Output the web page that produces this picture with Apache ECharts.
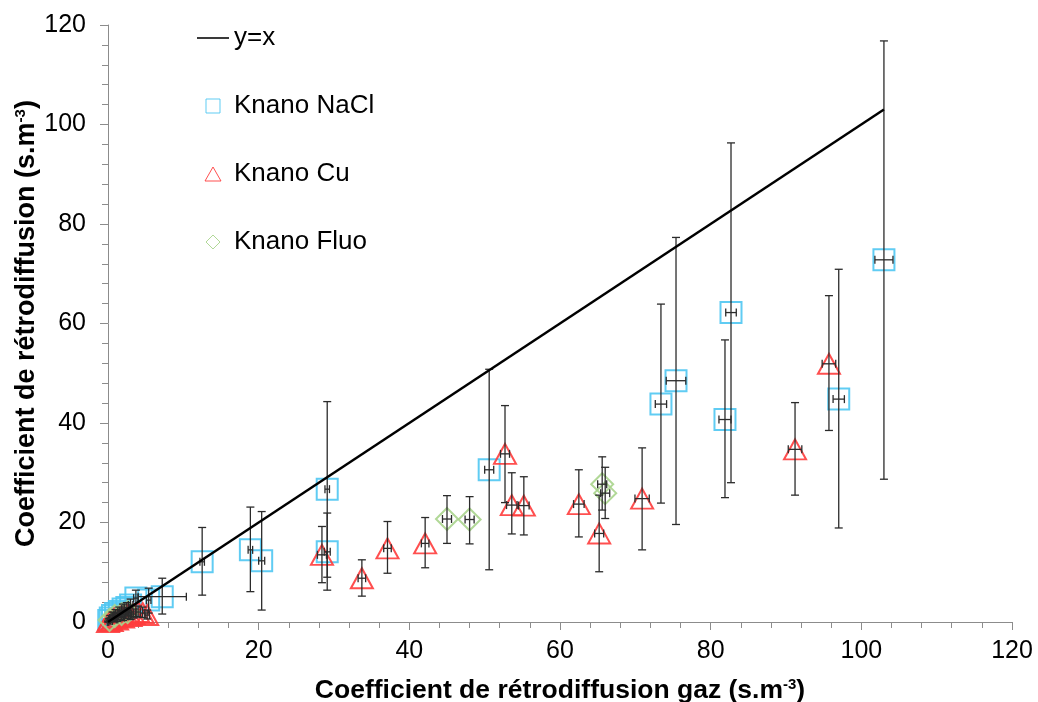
<!DOCTYPE html>
<html>
<head>
<meta charset="utf-8">
<script src="https://cdn.jsdelivr.net/npm/echarts@6/dist/echarts.min.js"></script>
<style>
  html, body { margin: 0; padding: 0; background: #fff; }
  #chart { width: 1038px; height: 702px; }
</style>
</head>
<body>
<div id="chart"></div>
<script>
// Axis ticks (both axes share the same scale)
const axisTicks = [0, 20, 40, 60, 80, 100, 120];

// Reference line y = x
const refLineX = [0, 103];

// Knano NaCl: gas value, measured value, lower / upper error, horizontal half-error
const naclX   = [103.0, 97.0, 82.7, 81.9, 75.4, 73.4, 50.6, 29.1, 29.1, 20.4, 18.9, 12.5, 7.2, 5.4, 3.7, 3.0, 2.5, 2.0, 1.5, 1.0, 0.6, 0.3, 0.1];
const naclY   = [72.8, 44.8, 62.2, 40.7, 48.5, 43.8, 30.6, 26.7, 14.1, 12.3, 14.5, 12.1, 5.1, 4.4, 4.8, 3.4, 2.9, 2.6, 2.1, 1.7, 1.3, 0.8, 0.3];
const naclLo  = [28.7, 18.9, 28.0, 25.0, 19.6, 23.9, 10.5, 9.0, 6.4, 2.4, 6.1, 5.4, 1.6, 1.8, 1.1, 2.2, 1.9, 1.6, 1.2, 0.9, 0.6, 0.3, 0.0];
const naclHi  = [116.8, 70.9, 96.3, 56.7, 77.3, 63.9, 50.8, 44.3, 21.9, 22.2, 23.1, 19.0, 8.8, 6.8, 6.4, 4.6, 3.9, 3.6, 3.0, 2.5, 2.0, 1.3, 0.6];
const naclXErr = [1.2, 0.75, 0.7, 0.8, 1.3, 0.75, 0.6, 0.3, 0.4, 0.4, 0.3, 0.3, 3.2, 0.3, 0.3, 0.3, 0.3, 0.2, 0.2, 0.2, 0.2, 0.1, 0.1];

// Knano Cu
const cuX   = [95.7, 91.2, 70.9, 65.2, 62.5, 55.2, 53.6, 52.7, 42.1, 37.1, 33.7, 28.4, 5.2, 4.6, 4.0, 3.4, 3.0, 2.5, 2.0, 1.6, 1.2, 0.8, 0.5, 0.2, 0.0];
const cuY   = [51.9, 34.7, 24.8, 17.8, 23.7, 23.4, 23.5, 33.8, 15.8, 14.8, 8.8, 13.5, 1.4, 1.8, 2.0, 1.6, 1.2, 1.5, 0.9, 1.1, 0.5, 0.8, 0.2, 0.4, 0.0];
const cuLo  = [38.5, 25.5, 14.5, 10.1, 17.1, 17.5, 17.7, 24.0, 10.9, 9.8, 5.2, 7.9, 0.6, 0.9, 1.0, 0.8, 0.5, 0.7, 0.3, 0.5, 0.1, 0.3, 0.0, 0.1, 0.0];
const cuHi  = [65.6, 44.1, 35.0, 25.5, 30.6, 29.2, 30.0, 43.5, 21.0, 20.2, 12.5, 19.2, 2.4, 3.0, 3.2, 2.6, 2.0, 2.4, 1.6, 1.8, 1.0, 1.4, 0.5, 0.8, 0.2];
const cuXErr = [0.9, 0.9, 0.95, 0.6, 0.7, 0.7, 0.7, 0.6, 0.5, 0.5, 0.5, 0.6, 0.3, 0.3, 0.3, 0.3, 0.2, 0.2, 0.2, 0.2, 0.1, 0.1, 0.1, 0.1, 0.1];

// Knano Fluo
const fluoX   = [66.0, 65.6, 48.0, 45.0, 2.6, 1.8, 0.9, 0.2];
const fluoY   = [25.9, 27.7, 20.6, 20.7, 2.0, 1.6, 1.2, 0.4];
const fluoLo  = [20.8, 22.5, 15.7, 15.8, 1.2, 1.0, 0.6, 0.1];
const fluoHi  = [31.1, 33.2, 25.2, 25.4, 2.8, 2.3, 1.8, 0.7];
const fluoXErr = [0.6, 0.6, 0.6, 0.6, 0.2, 0.2, 0.1, 0.1];

const FONT = '"Liberation Sans", Arial, sans-serif';

// Legend icons (paths keep their aspect ratio inside the icon box)
const ICON_LINE = 'path://M0,0L33,0L33,1.6L0,1.6Z';
const ICON_SQUARE = 'path://M0,0L14,0L14,14L0,14Z';
const ICON_TRIANGLE = 'path://M8,0L16,14L0,14Z';
const ICON_DIAMOND = 'path://M7,0L14,7L7,14L0,7Z';

function zipPoints(xs, ys) {
  return xs.map((x, i) => [x, ys[i]]);
}
function zipErrors(xs, ys, lo, hi, xe) {
  return xs.map((x, i) => [x, ys[i], lo[i], hi[i], xe[i]]);
}

// Draws vertical and horizontal error bars with caps
function renderErrorBars(params, api) {
  const x = api.value(0), y = api.value(1);
  const lo = api.value(2), hi = api.value(3), xe = api.value(4);
  const pLo = api.coord([x, lo]);
  const pHi = api.coord([x, hi]);
  const pL = api.coord([x - xe, y]);
  const pR = api.coord([x + xe, y]);
  const cap = 4;
  const style = { stroke: '#2b2b2b', lineWidth: 1.3 };
  const segs = [
    [pLo[0], pLo[1], pHi[0], pHi[1]],
    [pLo[0] - cap, pLo[1], pLo[0] + cap, pLo[1]],
    [pHi[0] - cap, pHi[1], pHi[0] + cap, pHi[1]],
    [pL[0], pL[1], pR[0], pR[1]],
    [pL[0], pL[1] - cap, pL[0], pL[1] + cap],
    [pR[0], pR[1] - cap, pR[0], pR[1] + cap]
  ];
  return {
    type: 'group',
    children: segs.map(s => ({
      type: 'line',
      shape: { x1: s[0], y1: s[1], x2: s[2], y2: s[3] },
      style: style
    }))
  };
}

function errorSeries(name, data) {
  return {
    name: name,
    type: 'custom',
    renderItem: renderErrorBars,
    data: data,
    encode: { x: 0, y: 1 },
    z: 3,
    silent: true
  };
}

function markerSeries(name, symbol, size, color, data) {
  return {
    name: name,
    type: 'scatter',
    symbol: symbol,
    symbolSize: size,
    data: data,
    z: 2,
    itemStyle: { color: 'rgba(255,255,255,0)', borderColor: color, borderWidth: 2, opacity: 0.9 },
    emphasis: { disabled: true }
  };
}

function axisNameStyle(size) {
  return {
    color: '#000',
    fontSize: size,
    fontWeight: 'bold',
    fontFamily: FONT,
    rich: {
      b: { fontSize: size, fontWeight: 'bold', fontFamily: FONT, color: '#000' },
      sup: { fontSize: 15, fontWeight: 'bold', fontFamily: FONT, color: '#000', verticalAlign: 'top', padding: [0, 0, 12, 0] }
    }
  };
}

const axisCommon = {
  type: 'value',
  min: axisTicks[0],
  max: axisTicks[axisTicks.length - 1],
  interval: axisTicks[1] - axisTicks[0],
  splitLine: { show: false },
  axisLine: { show: true, onZero: false, lineStyle: { color: '#8c8c8c', width: 1 } },
  axisTick: { show: true, length: 8, lineStyle: { color: '#8c8c8c' } },
  minorTick: { show: true, splitNumber: 5, length: 6, lineStyle: { color: '#8c8c8c' } },
  minorSplitLine: { show: false },
  nameLocation: 'middle'
};

const chart = echarts.init(document.getElementById('chart'), null, { renderer: 'canvas' });

chart.setOption({
  animation: false,
  backgroundColor: '#fff',
  grid: { left: 108, right: 26, top: 25, bottom: 80, containLabel: false, outerBoundsMode: 'none' },
  xAxis: Object.assign({}, axisCommon, {
    name: '{b|Coefficient de rétrodiffusion gaz (s.m}{sup|-3}{b|)}',
    nameGap: 55,
    nameTextStyle: axisNameStyle(26.5),
    axisLabel: { color: '#000', fontSize: 25, fontFamily: FONT, margin: 17 }
  }),
  yAxis: Object.assign({}, axisCommon, {
    name: '{b|Coefficient de rétrodiffusion (s.m}{sup|-3}{b|)}',
    nameGap: 68,
    nameMoveOverlap: false,
    nameTextStyle: axisNameStyle(27),
    axisLabel: { color: '#000', fontSize: 25, fontFamily: FONT, margin: 22 }
  }),
  legend: {
    data: [
      { name: 'y=x', icon: ICON_LINE },
      { name: 'Knano NaCl', icon: ICON_SQUARE },
      { name: 'Knano Cu', icon: ICON_TRIANGLE },
      { name: 'Knano Fluo', icon: ICON_DIAMOND }
    ],
    orient: 'vertical',
    left: 192,
    top: 20,
    itemWidth: 32,
    itemHeight: 14,
    itemGap: 42,
    selectedMode: false,
    symbolKeepAspect: true,
    itemStyle: { borderWidth: 1 },
    textStyle: { color: '#000', fontSize: 26, fontFamily: FONT, lineHeight: 26 }
  },
  series: [
    markerSeries('Knano NaCl', 'rect', 21, '#4fc6f2', zipPoints(naclX, naclY)),
    markerSeries('Knano Cu', 'triangle', [22, 20], '#ff3c3c', zipPoints(cuX, cuY)),
    markerSeries('Knano Fluo', 'diamond', 22, '#a9d48c', zipPoints(fluoX, fluoY)),
    errorSeries('NaCl errors', zipErrors(naclX, naclY, naclLo, naclHi, naclXErr)),
    errorSeries('Cu errors', zipErrors(cuX, cuY, cuLo, cuHi, cuXErr)),
    errorSeries('Fluo errors', zipErrors(fluoX, fluoY, fluoLo, fluoHi, fluoXErr)),
    {
      name: 'y=x',
      type: 'line',
      data: zipPoints(refLineX, refLineX),
      showSymbol: false,
      symbol: 'none',
      z: 4,
      lineStyle: { color: '#000', width: 2.5 },
      itemStyle: { color: '#000' },
      emphasis: { disabled: true },
      silent: true
    }
  ]
});
</script>
</body>
</html>
